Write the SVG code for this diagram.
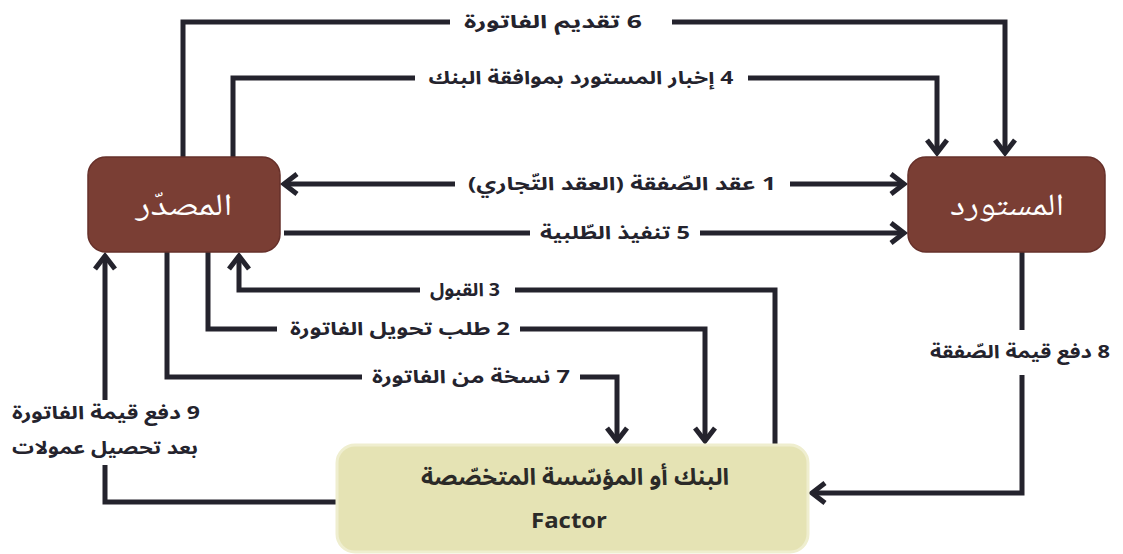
<svg xmlns="http://www.w3.org/2000/svg" width="1123" height="554" viewBox="0 0 1123 554">
<style>
.ln{fill:none;stroke:#24232d;stroke-width:5;stroke-linejoin:miter}
.lbl{font-family:"Noto Sans Arabic","DejaVu Sans",sans-serif;font-weight:bold;font-size:18px;fill:#24232d;text-anchor:middle;direction:rtl}
.nodeTxt{font-family:"Noto Naskh Arabic","DejaVu Serif","Liberation Serif",serif;font-size:31px;fill:#ffffff;text-anchor:middle;direction:rtl}
.brown{fill:#7a3e34;stroke:#66302a;stroke-width:1.5}
</style>
<defs>
<marker id="ah" viewBox="-16 -12 24 24" refX="0" refY="0" markerWidth="24" markerHeight="24" markerUnits="userSpaceOnUse" orient="auto">
<path d="M-13,-10 L0,0 L-13,10" fill="none" stroke="#24232d" stroke-width="5" stroke-linejoin="miter"/>
</marker>
</defs>
<rect width="1123" height="554" fill="#ffffff"/>
<g id="connectors">
<path class="ln" d="M183,157 V22 H450"/>
<path class="ln" d="M672,22 H1005 V153" marker-end="url(#ah)"/>
<path class="ln" d="M233,157 V78 H415"/>
<path class="ln" d="M748,78 H937 V153" marker-end="url(#ah)"/>
<path class="ln" d="M455,184 H284" marker-end="url(#ah)"/>
<path class="ln" d="M790,184 H904" marker-end="url(#ah)"/>
<path class="ln" d="M284,233 H530"/>
<path class="ln" d="M700,233 H904" marker-end="url(#ah)"/>
<path class="ln" d="M775,445 V290 H515"/>
<path class="ln" d="M420,290 H239 V256" marker-end="url(#ah)"/>
<path class="ln" d="M208,252 V329 H277"/>
<path class="ln" d="M520,329 H705 V441" marker-end="url(#ah)"/>
<path class="ln" d="M167,252 V377 H362"/>
<path class="ln" d="M580,377 H617 V441" marker-end="url(#ah)"/>
<path class="ln" d="M1022,252 V330"/>
<path class="ln" d="M1022,375 V493 H812" marker-end="url(#ah)"/>
<path class="ln" d="M337,502 H105 V465"/>
<path class="ln" d="M105,400 V256" marker-end="url(#ah)"/>
<text class="lbl" x="553" y="28" textLength="178" lengthAdjust="spacingAndGlyphs">6 تقديم الفاتورة</text>
<text class="lbl" x="581" y="84" textLength="305" lengthAdjust="spacingAndGlyphs">4 إخبار المستورد بموافقة البنك</text>
<text class="lbl" x="622" y="190" textLength="308" lengthAdjust="spacingAndGlyphs">1 عقد الصّفقة (العقد التّجاري)</text>
<text class="lbl" x="615" y="239" textLength="150" lengthAdjust="spacingAndGlyphs">5 تنفيذ الطّلبية</text>
<text class="lbl" x="465" y="296" textLength="70" lengthAdjust="spacingAndGlyphs">3 القبول</text>
<text class="lbl" x="400" y="335" textLength="220" lengthAdjust="spacingAndGlyphs">2 طلب تحويل الفاتورة</text>
<text class="lbl" x="471" y="383" textLength="198" lengthAdjust="spacingAndGlyphs">7 نسخة من الفاتورة</text>
<text class="lbl" x="1020" y="358" textLength="180" lengthAdjust="spacingAndGlyphs">8 دفع قيمة الصّفقة</text>
<text class="lbl" x="106" y="419" textLength="188" lengthAdjust="spacingAndGlyphs">9 دفع قيمة الفاتورة</text>
<text class="lbl" x="105" y="454" textLength="186" lengthAdjust="spacingAndGlyphs">بعد تحصيل عمولات</text>
</g>
<g id="exporter">
<rect class="brown" x="88" y="157" width="192" height="95" rx="18"/>
<text class="nodeTxt" x="184" y="215" textLength="97" lengthAdjust="spacingAndGlyphs">المصدّر</text>
</g>
<g id="importer">
<rect class="brown" x="908" y="157" width="197" height="95" rx="18"/>
<text class="nodeTxt" x="1007" y="215" textLength="114" lengthAdjust="spacingAndGlyphs">المستورد</text>
</g>
<g id="bank">
<rect x="337" y="445" width="471" height="107" rx="18" fill="#e5e3b4" stroke="#efeecf" stroke-width="3"/>
<text class="lbl" x="575" y="485" textLength="308" lengthAdjust="spacingAndGlyphs" style="font-size:23px;fill:#2b2a28">البنك أو المؤسّسة المتخصّصة</text>
<text x="569" y="528" textLength="76" lengthAdjust="spacingAndGlyphs" style="font-family:'Open Sans','Liberation Sans',sans-serif;font-weight:bold;font-size:22px;fill:#2b2a28;text-anchor:middle">Factor</text>
</g>
</svg>
